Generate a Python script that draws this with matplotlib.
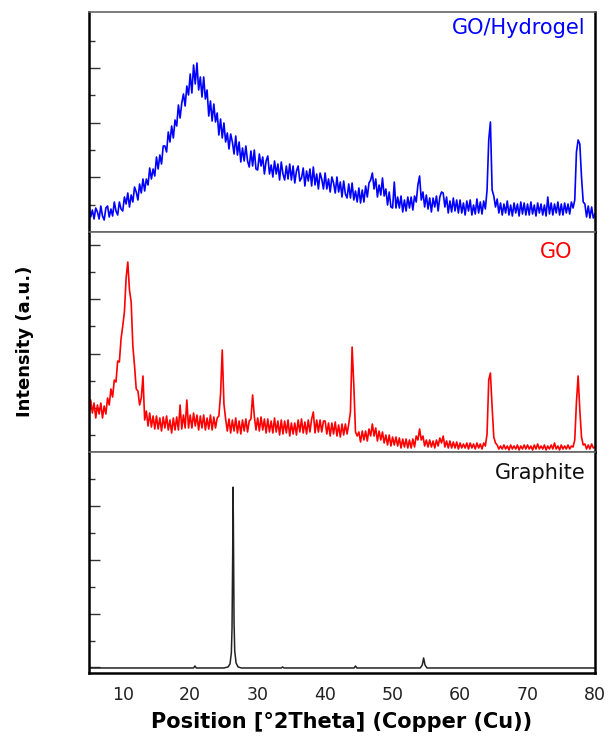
import numpy as np
import matplotlib.pyplot as plt
from matplotlib.ticker import FixedLocator

# 2theta grid of the scans (degrees)
theta = np.arange(5, 80.001, 0.25)

# GO/Hydrogel intensity (a.u.), 5 deg per row
hydrogel = [
    26, 15, 22, 13, 24, 20, 13, 26, 16, 12, 24, 26, 15, 23, 16, 30, 21, 17, 30, 23,
    21, 35, 28, 39, 25, 37, 30, 45, 40, 32, 48, 39, 53, 41, 53, 47, 64, 53, 63, 56,
    75, 63, 77, 68, 86, 86, 80, 100, 90, 106, 94, 112, 106, 127, 114, 129, 138, 126, 146, 137,
    158, 139, 167, 148, 169, 142, 155, 135, 155, 133, 142, 116, 131, 111, 128, 110, 119, 97, 113, 94,
    109, 90, 99, 83, 98, 90, 78, 96, 77, 90, 70, 84, 71, 86, 71, 65, 81, 66, 82, 63,
    62, 78, 66, 75, 58, 71, 76, 58, 67, 55, 71, 58, 68, 52, 70, 58, 52, 66, 53, 68,
    52, 66, 49, 61, 66, 51, 54, 64, 46, 61, 51, 63, 46, 65, 47, 58, 43, 59, 53, 43,
    59, 43, 53, 40, 55, 49, 39, 55, 40, 50, 35, 51, 38, 34, 48, 34, 49, 32, 41, 30,
    44, 29, 42, 30, 46, 35, 49, 52, 59, 43, 53, 35, 47, 37, 54, 36, 43, 27, 40, 25,
    24, 50, 24, 35, 24, 36, 20, 32, 21, 35, 24, 35, 22, 36, 30, 47, 56, 32, 40, 25,
    37, 23, 34, 20, 34, 25, 36, 21, 35, 40, 39, 25, 35, 19, 31, 20, 34, 21, 32, 19,
    32, 19, 29, 17, 31, 21, 32, 17, 27, 18, 33, 19, 30, 18, 31, 23, 42, 92, 110, 42,
    36, 25, 33, 19, 29, 17, 28, 19, 31, 17, 27, 16, 29, 19, 28, 16, 30, 18, 29, 17,
    28, 17, 30, 18, 27, 16, 29, 19, 28, 17, 27, 16, 35, 18, 29, 17, 28, 19, 30, 17,
    28, 17, 29, 19, 28, 18, 30, 24, 32, 80, 92, 88, 55, 30, 28, 15, 26, 14, 25, 14,
    18,
]

# GO intensity (a.u.)
go = [
    37, 52, 39, 49, 34, 47, 38, 49, 34, 46, 38, 54, 47, 63, 55, 72, 70, 91, 90, 113,
    126, 140, 174, 190, 162, 150, 106, 86, 63, 61, 47, 54, 76, 32, 41, 26, 39, 25, 36, 23,
    36, 23, 34, 21, 35, 24, 36, 22, 32, 19, 34, 22, 35, 22, 47, 23, 37, 24, 52, 24,
    37, 24, 39, 26, 37, 22, 36, 24, 37, 22, 34, 23, 37, 22, 35, 24, 34, 36, 58, 102,
    48, 33, 21, 33, 19, 32, 21, 34, 19, 31, 18, 32, 21, 33, 20, 31, 33, 57, 36, 22,
    34, 21, 35, 22, 33, 19, 33, 20, 31, 19, 34, 20, 31, 17, 32, 18, 31, 19, 32, 16,
    29, 18, 29, 17, 32, 20, 33, 19, 30, 18, 32, 20, 33, 40, 19, 32, 20, 32, 20, 31,
    31, 18, 29, 16, 29, 18, 30, 16, 27, 15, 28, 17, 28, 18, 28, 40, 105, 67, 20, 16,
    20, 10, 21, 12, 21, 11, 23, 16, 28, 16, 24, 11, 21, 12, 20, 9, 17, 7, 17, 6,
    15, 7, 15, 6, 14, 4, 13, 5, 13, 4, 12, 4, 13, 5, 16, 12, 23, 12, 16, 6,
    12, 5, 12, 5, 11, 4, 12, 6, 14, 9, 16, 5, 11, 4, 11, 4, 10, 4, 10, 3,
    9, 4, 8, 4, 9, 3, 9, 4, 8, 3, 9, 4, 8, 3, 9, 6, 18, 72, 79, 45,
    15, 9, 7, 3, 6, 3, 7, 3, 6, 2, 7, 3, 6, 3, 7, 2, 6, 3, 7, 3,
    7, 3, 6, 2, 7, 3, 8, 3, 6, 3, 7, 2, 6, 3, 7, 3, 9, 3, 6, 2,
    7, 3, 6, 3, 7, 3, 6, 5, 12, 50, 76, 42, 15, 7, 8, 3, 7, 3, 8, 4,
    5,
]

# Graphite pattern (smooth, so fewer points)
graphite_x = [5, 20.5, 20.7, 20.9, 25.0, 25.6, 25.9, 26.1, 26.2, 26.3, 26.35, 26.4,
              26.5, 26.6, 26.8, 27.1, 27.6, 33.5, 33.7, 33.9, 44.3, 44.5, 44.7,
              54.1, 54.4, 54.6, 54.8, 55.1, 80]
graphite_y = [5, 5, 7, 5, 5, 6, 9, 20, 45, 120, 185, 150,
              50, 22, 10, 6, 5, 5, 6, 5, 5, 7, 5,
              5, 8, 15, 8, 5, 5]

fig = plt.figure(figsize=(6.13, 7.36), dpi=100)
left, width = 89 / 613, 506 / 613
ax_top = fig.add_axes([left, 1 - 232 / 736, width, 220 / 736])
ax_mid = fig.add_axes([left, 1 - 452 / 736, width, 220 / 736])
ax_bot = fig.add_axes([left, 1 - 673 / 736, width, 221 / 736])

ax_top.plot(theta, hydrogel, color="#0000ff", lw=1.2)
ax_mid.plot(theta, go, color="#ff0000", lw=1.2)
ax_bot.plot(graphite_x, graphite_y, color="#222222", lw=1.1)

ticks = {
    ax_top: ([55, 109.5, 164], [27.5, 82, 137, 191.5]),
    ax_mid: ([44, 98.3, 152.6, 207], [16.5, 71, 125.5, 179.8]),
    ax_bot: ([5.5, 59, 112.5, 166], [32, 85.5, 139, 193]),
}

for ax, (major, minor) in ticks.items():
    ax.set_xlim(5, 80)
    ax.set_ylim(0, 220)
    ax.yaxis.set_major_locator(FixedLocator(major))
    ax.yaxis.set_minor_locator(FixedLocator(minor))
    ax.tick_params(axis="y", which="major", direction="in", length=8, width=1,
                   color="#333333", labelleft=False)
    ax.tick_params(axis="y", which="minor", direction="in", length=4, width=1,
                   color="#333333")
    ax.set_xticks(range(10, 81, 10))
    ax.tick_params(axis="x", length=0, labelbottom=False)
    ax.spines["left"].set_linewidth(1.8)
    ax.spines["right"].set_linewidth(1.8)
    ax.spines["top"].set_linewidth(1.2)
    ax.spines["top"].set_color("#666666")
    ax.spines["bottom"].set_linewidth(1.2)
    ax.spines["bottom"].set_color("#666666")

ax_bot.spines["bottom"].set_color("black")
ax_bot.spines["bottom"].set_linewidth(1.8)
ax_bot.tick_params(axis="x", labelbottom=True, labelsize=12.5, labelcolor="#222222", pad=9)

ax_top.text(0.982, 0.927, "GO/Hydrogel", transform=ax_top.transAxes,
            ha="right", va="center", color="#0000ff", fontsize=15)
ax_mid.text(0.955, 0.909, "GO", transform=ax_mid.transAxes,
            ha="right", va="center", color="#ff0000", fontsize=15)
ax_bot.text(0.982, 0.905, "Graphite", transform=ax_bot.transAxes,
            ha="right", va="center", color="#111111", fontsize=15)

fig.text(25 / 613, 1 - 341 / 736, "Intensity (a.u.)", rotation=90,
         ha="center", va="center", fontsize=13, fontweight="bold")
fig.text(342 / 613, 1 - 722 / 736, "Position [°2Theta] (Copper (Cu))",
         ha="center", va="center", fontsize=15, fontweight="bold")

fig.savefig("out.png", dpi=100)
